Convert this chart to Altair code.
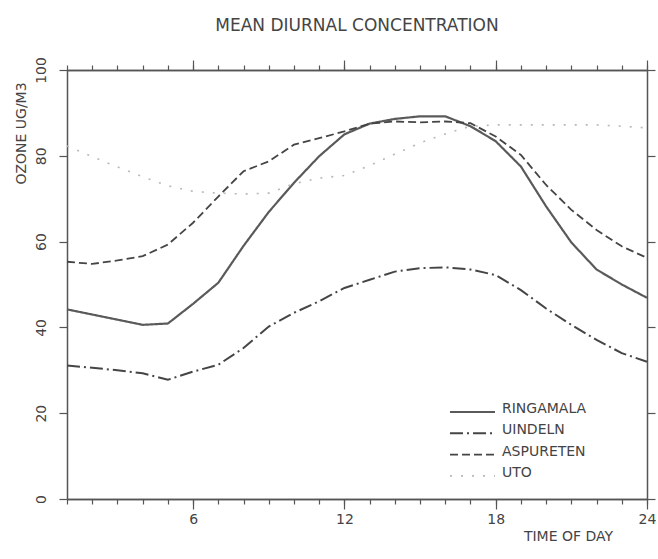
import altair as alt
import pandas as pd

hours = list(range(1, 25))
stations = ["RINGAMALA", "UINDELN", "ASPURETEN", "UTO"]
ringamala = [44.2, 43.0, 41.8, 40.6, 40.9, 45.5, 50.4, 59.0, 66.9, 73.7, 79.9, 85.0, 87.5, 88.6, 89.2, 89.2, 86.9, 83.4, 77.5, 68.2, 59.8, 53.5, 50.0, 46.9]
vindeln = [31.1, 30.6, 30.0, 29.3, 27.8, 29.7, 31.3, 35.2, 40.2, 43.4, 46.1, 49.2, 51.1, 53.0, 53.8, 54.0, 53.5, 52.2, 48.7, 44.4, 40.6, 37.1, 34.0, 32.0]
aspureten = [55.3, 54.8, 55.6, 56.6, 59.3, 64.4, 70.5, 76.4, 78.7, 82.6, 84.1, 85.7, 87.5, 88.0, 87.8, 88.0, 87.6, 84.5, 80.2, 73.2, 67.4, 62.7, 58.9, 56.2]
uto = [82.3, 79.8, 77.4, 75.1, 73.0, 71.7, 71.3, 71.1, 71.3, 73.5, 74.8, 75.4, 77.7, 80.4, 83.0, 85.1, 86.9, 87.2, 87.2, 87.2, 87.2, 87.2, 86.9, 86.5]

series = {"RINGAMALA": ringamala, "UINDELN": vindeln, "ASPURETEN": aspureten, "UTO": uto}
rows = []
for name in stations:
    for h, v in zip(hours, series[name]):
        rows.append({"station": name, "hour": h, "value": v})
df = pd.DataFrame(rows)
legend_df = pd.DataFrame({"station": stations, "row": list(range(len(stations)))})

FONT = "DejaVu Sans"
INK = "#444444"
AX = "#555555"

dash_scale = alt.Scale(domain=stations, range=[[1, 0], [13, 4, 2, 4], [8, 4], [2, 9]])
color_scale = alt.Scale(domain=stations, range=["#5a5a5a", "#454545", "#454545", "#b8b8b8"])
width_scale = alt.Scale(domain=stations, range=[2.2, 1.6, 1.6, 2.2])
xscale = alt.Scale(domain=[1, 24], nice=False, zero=False)
yscale = alt.Scale(domain=[0, 100], nice=False)

major_x = [6, 12, 18, 24]
minor_x = hours
y_ticks = [0, 20, 40, 60, 80, 100]

common = dict(grid=False, domainColor=AX, domainWidth=1.5, tickColor=AX, tickWidth=1.2,
              labelColor=INK, labelFont=FONT, titleFont=FONT, titleFontWeight="normal", titleColor=INK)

lines = alt.Chart(df).mark_line(strokeCap="butt").encode(
    x=alt.X("hour:Q", scale=xscale, axis=alt.Axis(
        orient="bottom", values=major_x, tickSize=10, labelFontSize=14, labelPadding=3,
        title="TIME OF DAY", titleX=501, titleY=37, titleAlign="center", titleBaseline="middle",
        titleFontSize=14, labelFlush=False, **common)),
    y=alt.Y("value:Q", scale=yscale, axis=alt.Axis(
        orient="left", values=y_ticks, tickSize=8, labelAngle=270, labelAlign="center",
        labelBaseline="alphabetic", labelPadding=14, labelFontSize=14,
        title="OZONE UG/M3", titleAngle=270, titleX=-46, titleY=63, titleAlign="center",
        titleBaseline="middle", titleFontSize=14, **common)),
    detail="station:N",
    strokeDash=alt.StrokeDash("station:N", scale=dash_scale, legend=None),
    color=alt.Color("station:N", scale=color_scale, legend=None),
    strokeWidth=alt.StrokeWidth("station:N", scale=width_scale, legend=None),
)

ghost_b = alt.Chart(df).mark_point(opacity=0, size=1).encode(
    x=alt.X("hour:Q", scale=xscale, axis=alt.Axis(orient="bottom", values=minor_x, tickSize=5, labels=False, title=None, **common)),
    y=alt.Y("value:Q", scale=yscale, axis=alt.Axis(orient="right", values=y_ticks, tickSize=8, labels=False, title=None, **common)),
)
ghost_c = alt.Chart(df).mark_point(opacity=0, size=1).encode(
    x=alt.X("hour:Q", scale=xscale, axis=alt.Axis(orient="top", values=major_x, tickSize=10, labels=False, title=None, **common)),
    y=alt.Y("value:Q", scale=yscale, axis=None),
)
ghost_d = alt.Chart(df).mark_point(opacity=0, size=1).encode(
    x=alt.X("hour:Q", scale=xscale, axis=alt.Axis(orient="top", values=minor_x, tickSize=5, labels=False, title=None, **common)),
    y=alt.Y("value:Q", scale=yscale, axis=None),
)

leg_rules = alt.Chart(legend_df).mark_rule(strokeCap="butt").encode(
    x=alt.value(383), x2=alt.value(428),
    y=alt.Y("row:Q", scale=alt.Scale(domain=[0, 3], range=[342, 405.9]), axis=None),
    strokeDash=alt.StrokeDash("station:N", scale=dash_scale, legend=None),
    color=alt.Color("station:N", scale=color_scale, legend=None),
    strokeWidth=alt.StrokeWidth("station:N", scale=width_scale, legend=None),
)
leg_text = alt.Chart(legend_df).mark_text(align="left", baseline="middle", font=FONT, fontSize=14, color=INK).encode(
    x=alt.value(435),
    y=alt.Y("row:Q", scale=alt.Scale(domain=[0, 3], range=[339, 402.9]), axis=None),
    text="station:N",
)

chart = alt.layer(lines, ghost_b, ghost_c, ghost_d, leg_rules, leg_text).resolve_scale(
    y="independent"
).resolve_axis(
    x="independent", y="independent"
).properties(
    width=580, height=429,
    autosize=alt.AutoSizeParams(type="none"),
    padding={"left": 67, "top": 70, "right": 11, "bottom": 60},
    title=alt.TitleParams("MEAN DIURNAL CONCENTRATION", font=FONT, fontSize=17, fontWeight="normal",
                          color=INK, anchor="middle", offset=9, baseline="alphabetic"),
).configure_view(stroke=None).configure_axis(
    grid=False, titleFontWeight="normal",
).configure(background="white")

chart.save("out.html", embed_options={"renderer": "svg", "actions": False})
